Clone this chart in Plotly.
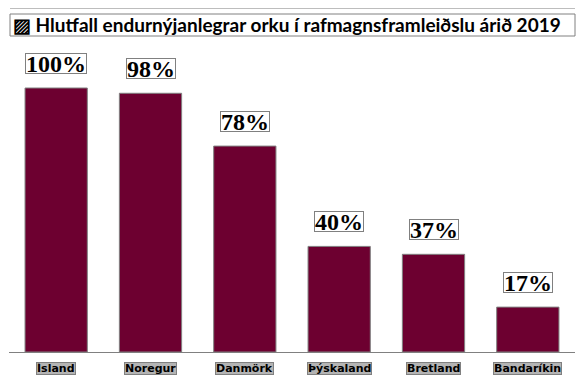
import plotly.graph_objects as go

countries = ["Ísland", "Noregur", "Danmörk", "Þýskaland", "Bretland", "Bandaríkin"]
shares = [100, 98, 78, 40, 37, 17]
share_labels = ["100%", "98%", "78%", "40%", "37%", "17%"]
title_text = "▨ Hlutfall endurnýjanlegrar orku í rafmagnsframleiðslu árið 2019"

# the page body has an 8px margin, so work in page pixels and offset
OFF = 8
W, H = 586 - OFF, 386 - OFF
L, R, T, B = 9 - OFF, 11, 40 - OFF, 34
plot_w = W - L - R
plot_h = H - T - B

def px_x(p):
    return (p - OFF - L) / plot_w

def px_y(p):
    return (H - B - (p - OFF)) / plot_h

fig = go.Figure()
fig.add_trace(go.Bar(
    x=countries, y=shares,
    marker=dict(color="#6d0030", line=dict(color="#808080", width=1)),
    hoverinfo="skip",
))

annotations = []
for c, v, lab in zip(countries, shares, share_labels):
    annotations.append(dict(
        x=c, y=v, xref="x", yref="y", text="<b>" + lab + "</b>", showarrow=False,
        yanchor="bottom", yshift=14,
        font=dict(family="Liberation Serif", size=24, color="#000000"),
        bordercolor="#808080", borderwidth=1, borderpad=0, bgcolor="#ffffff",
        height=19,
    ))
    annotations.append(dict(
        x=c, y=px_y(368), xref="x", yref="paper", text="<b>" + c + "</b>",
        showarrow=False, yanchor="middle",
        font=dict(family="DejaVu Sans", size=11, color="#000000"),
        bordercolor="#808080", borderwidth=1, borderpad=0, bgcolor="#b4b4b4",
        height=11,
    ))

annotations.append(dict(
    x=px_x(11), y=px_y(25), xref="paper", yref="paper",
    text="<b>" + title_text + "</b>", showarrow=False,
    xanchor="left", yanchor="middle",
    font=dict(family="Lato", size=19, color="#000000"),
))

shapes = [
    dict(type="line", xref="paper", yref="paper", x0=px_x(10), x1=px_x(575),
         y0=px_y(8), y1=px_y(8), line=dict(color="#bdbdbd", width=2)),
    dict(type="rect", xref="paper", yref="paper", x0=px_x(10), x1=px_x(575),
         y0=px_y(36), y1=px_y(14), line=dict(color="#808080", width=1)),
]

fig.update_layout(
    width=W, height=H,
    margin=dict(l=L, r=R, t=T, b=B),
    paper_bgcolor="#ffffff", plot_bgcolor="#ffffff",
    showlegend=False, bargap=0.34,
    annotations=annotations, shapes=shapes,
    xaxis=dict(showticklabels=False, showline=True, linecolor="#808080", linewidth=1,
               ticks="", showgrid=False, zeroline=False),
    yaxis=dict(range=[0, 100 * plot_h / 264], visible=False, showgrid=False, zeroline=False),
)

fig.write_html("out.html")
